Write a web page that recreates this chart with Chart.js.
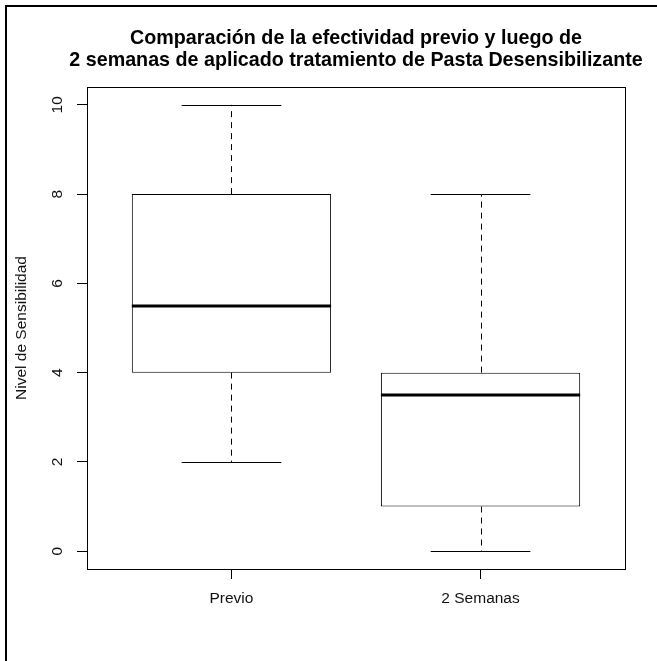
<!DOCTYPE html>
<html><head><meta charset="utf-8">
<script src="https://cdn.jsdelivr.net/npm/chart.js@4"></script>
<style>html,body{margin:0;padding:0;background:#fff;overflow:hidden}#wrap{width:657px;height:661px;position:relative}</style>
</head><body><div id="wrap"><canvas id="c" width="657" height="661"></canvas></div>
<script>
const categories = ['Previo', '2 Semanas'];
const whiskerLow = [2, 0];
const quartile1 = [4, 1];
const medians = [5.5, 3.5];
const quartile3 = [8, 4];
const whiskerHigh = [10, 8];
const yTicks = [0, 2, 4, 6, 8, 10];
const titleLines = ['Comparación de la efectividad previo y luego de', '2 semanas de aplicado tratamiento de Pasta Desensibilizante'];
const yTitle = 'Nivel de Sensibilidad';

const FONT = "'Liberation Sans', Arial, sans-serif";

const boxData = categories.map((c, i) => ({ x: i + 1, y: [quartile1[i], quartile3[i]] }));

const crisp = v => Math.round(v) + 0.5;

const boxExtras = {
  id: 'boxExtras',
  beforeDraw(chart) {
    const ctx = chart.ctx;
    ctx.save();
    ctx.fillStyle = '#fff';
    ctx.fillRect(0, 0, chart.width, chart.height);
    ctx.strokeStyle = '#000';
    ctx.lineWidth = 2;
    ctx.strokeRect(6, 6, chart.width + 20, chart.height + 20);
    ctx.restore();
  },
  afterDatasetsDraw(chart) {
    const { ctx, scales: { x, y } } = chart;
    ctx.save();
    ctx.strokeStyle = '#000';
    const line = (x1, y1, x2, y2) => { ctx.beginPath(); ctx.moveTo(x1, y1); ctx.lineTo(x2, y2); ctx.stroke(); };
    categories.forEach((c, i) => {
      const pos = i + 1;
      const cx = crisp(x.getPixelForValue(pos));
      const capL = x.getPixelForValue(pos - 0.2), capR = x.getPixelForValue(pos + 0.2);
      const boxL = x.getPixelForValue(pos - 0.4), boxR = x.getPixelForValue(pos + 0.4);
      ctx.lineWidth = 1;
      ctx.setLineDash([6, 5]);
      line(cx, y.getPixelForValue(quartile3[i]), cx, y.getPixelForValue(whiskerHigh[i]));
      line(cx, y.getPixelForValue(quartile1[i]), cx, y.getPixelForValue(whiskerLow[i]));
      ctx.setLineDash([]);
      line(capL, crisp(y.getPixelForValue(whiskerHigh[i])), capR, crisp(y.getPixelForValue(whiskerHigh[i])));
      line(capL, crisp(y.getPixelForValue(whiskerLow[i])), capR, crisp(y.getPixelForValue(whiskerLow[i])));
      ctx.lineWidth = 3;
      const my = Math.round(y.getPixelForValue(medians[i]));
      line(boxL, my, boxR, my);
    });
    ctx.restore();
  },
  afterDraw(chart) {
    const { ctx, chartArea: a } = chart;
    ctx.save();
    ctx.strokeStyle = '#000';
    ctx.lineWidth = 1;
    ctx.strokeRect(crisp(a.left), crisp(a.top), Math.round(a.right - a.left), Math.round(a.bottom - a.top));
    // main title, centred over the plot region
    ctx.fillStyle = '#000';
    ctx.font = 'bold 19.7px ' + FONT;
    ctx.textAlign = 'center';
    ctx.textBaseline = 'alphabetic';
    const cx = (a.left + a.right) / 2;
    ctx.fillText(titleLines[0], cx, 44);
    ctx.fillText(titleLines[1], cx, 66);
    ctx.restore();
  }
};

new Chart(document.getElementById('c'), {
  type: 'bar',
  data: {
    datasets: [{
      data: boxData,
      backgroundColor: '#fff',
      borderColor: '#000',
      borderWidth: 1,
      borderSkipped: false,
      categoryPercentage: 0.8,
      barPercentage: 1
    }]
  },
  options: {
    responsive: false,
    devicePixelRatio: 1,
    animation: false,
    events: [],
    layout: { padding: { left: 0, right: 32, top: 87, bottom: 0 } },
    plugins: {
      legend: { display: false },
      tooltip: { enabled: false },
      title: { display: false }
    },
    scales: {
      x: {
        type: 'linear',
        min: 0.42,
        max: 2.58,
        offset: false,
        afterFit(scale) { scale.height = 92; },
        afterBuildTicks(scale) { scale.ticks = categories.map((c, i) => ({ value: i + 1 })); },
        grid: { offset: false, drawOnChartArea: false, drawTicks: true, tickLength: 10, color: '#000', lineWidth: 1 },
        border: { display: true, color: '#000', width: 1 },
        ticks: {
          color: '#111',
          font: { family: FONT, size: 15.5 },
          padding: 10,
          maxRotation: 0,
          autoSkip: false,
          callback: v => categories[v - 1]
        }
      },
      y: {
        type: 'linear',
        min: -0.4,
        max: 10.4,
        afterFit(scale) { scale.width = 87; },
        afterBuildTicks(scale) { scale.ticks = yTicks.map(v => ({ value: v })); },
        grid: { drawOnChartArea: false, drawTicks: true, tickLength: 10, color: '#000', lineWidth: 1 },
        border: { display: true, color: '#000', width: 1 },
        title: {
          display: true,
          text: yTitle,
          color: '#111',
          font: { family: FONT, size: 15.5 },
          padding: { top: 12, bottom: 0 }
        },
        ticks: {
          color: '#111',
          font: { family: FONT, size: 15.5 },
          padding: 11,
          minRotation: 90,
          maxRotation: 90,
          crossAlign: 'center',
          autoSkip: false,
          callback: v => String(v)
        }
      }
    }
  },
  plugins: [boxExtras]
});
</script>
</body></html>
